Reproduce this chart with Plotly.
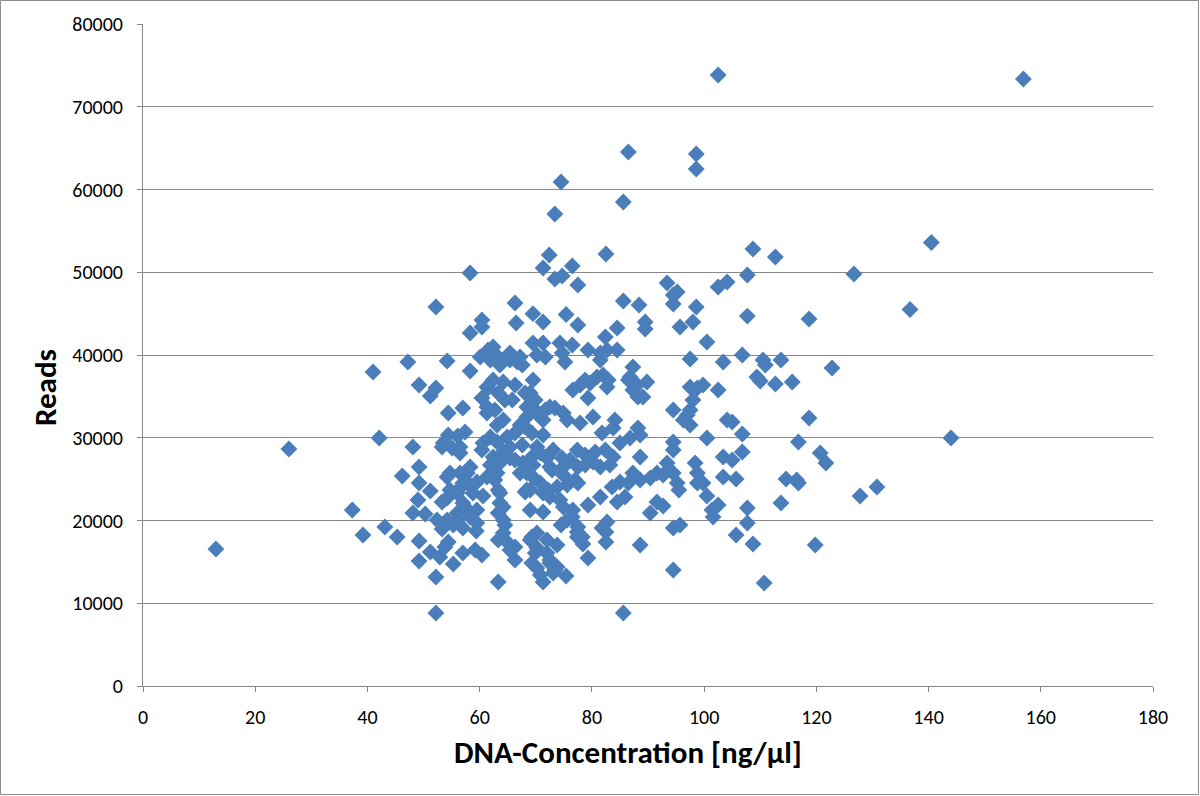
import plotly.graph_objects as go

# DNA concentration [ng/µl]
conc = [
    102.5, 156.9, 86.5, 98.6, 98.6, 74.5, 85.6, 73.4, 140.5, 108.7, 82.5, 72.4, 112.7, 76.5, 71.3, 58.3,
    126.7, 107.7, 74.7, 73.4, 104.1, 102.5, 93.4, 77.5, 95.2, 94.5, 85.6, 94.5, 88.4, 98.6, 52.2, 66.3,
    136.7, 107.7, 118.7, 69.5, 75.4,
    71.3, 77.5, 84.5, 89.5, 89.5, 95.7, 98.0, 82.4, 69.5, 71.3, 74.3, 76.5, 70.2, 71.7, 74.7, 75.2, 79.3,
    81.5, 81.5, 84.5, 100.5, 97.5, 103.4, 87.3, 69.5, 76.6, 77.9, 79.7, 82.0, 82.9, 86.5, 88.1, 89.8, 88.2,
    79.3, 98.8, 99.8, 102.5, 98.0, 94.5, 97.5, 73.4, 74.9, 69.0, 69.9, 70.8, 71.3, 75.6, 77.9, 80.2, 84.1,
    83.8, 96.3, 97.5, 104.1, 69.3, 71.3, 81.8, 88.2, 88.6, 86.8, 85.0, 94.5, 94.5, 100.5, 70.8, 73.1, 74.7,
    77.4, 78.8, 80.6, 82.4, 88.6, 69.5, 72.5, 78.8, 83.2, 93.4, 98.4, 103.4,
    106.8, 110.5, 110.9, 113.7, 122.8, 109.4, 110.0, 112.7, 115.7, 105.0, 118.7, 106.8, 116.8, 106.8, 105.0,
    120.7, 121.7,
    105.7, 114.6, 116.8, 116.5, 127.8, 130.8, 107.7, 113.7, 107.7, 105.7, 108.7, 119.8, 110.7, 144.0,
    13.0, 26.0,
    37.3, 39.2, 43.1, 45.3, 46.2, 49.2, 51.2, 49.0, 48.1, 50.3, 49.2, 49.2, 52.2, 52.2, 51.2, 52.9, 53.8,
    55.3, 54.4, 52.4, 53.3, 55.3, 57.0, 59.4, 57.0, 59.2, 60.4, 54.2, 53.3, 56.5, 57.4, 59.5, 60.6, 54.2,
    56.5, 57.9, 59.5, 63.1, 63.3, 63.6, 63.3, 64.2, 64.2, 63.3, 65.4, 66.3, 63.3, 69.0, 68.4, 61.3, 67.2,
    85.6, 94.5, 88.6, 71.3, 75.4, 79.3, 73.1, 70.2, 72.5, 69.3, 73.8, 72.0, 70.2, 70.2, 77.4, 78.4, 82.5,
    81.8, 82.7, 82.5, 77.5, 76.5, 74.9, 74.5, 71.3, 79.3, 81.5, 83.6, 84.5, 85.9, 86.5, 87.3, 90.4, 91.6,
    92.7, 94.5, 95.7, 95.5, 88.6, 90.4, 92.7, 94.5, 98.8, 98.8, 100.5, 102.5, 101.6, 103.4, 71.3, 72.5,
    75.6, 77.5, 72.9, 69.5, 69.0, 73.8,
    41.0, 47.2, 54.2, 58.3, 49.2, 52.2, 51.2, 54.4, 57.0, 42.1, 48.1, 49.2, 53.5, 54.4, 56.1, 57.4, 56.5,
    58.3, 60.4, 60.4, 58.3, 66.5, 60.1, 62.4, 61.9, 65.4, 66.7, 67.6, 63.6, 61.3, 62.4, 64.2, 66.3, 60.4,
    64.5, 65.8, 61.3, 62.7, 68.1, 68.4, 67.2, 63.1, 61.9, 60.6, 63.1, 64.9, 66.3, 65.4, 67.6, 64.2, 62.4,
    66.3, 61.9, 56.5, 55.1, 53.3,
    61.5, 63.3, 65.4, 67.2, 61.5, 63.3, 61.3, 64.2, 68.1, 68.4, 60.4, 63.6, 67.7, 65.4,
    70.2, 72.0, 76.1, 74.9, 77.5, 80.2, 81.5, 83.8, 69.3, 69.9, 71.7, 69.0, 72.5, 78.8, 80.9, 82.7, 86.8,
    89.1, 87.3, 82.7, 97.5, 97.0,
    54.7, 56.0, 57.0, 58.8, 57.0, 56.0, 54.2, 56.1, 58.3, 59.5, 62.7, 63.6, 64.2, 64.5, 64.9, 62.4, 57.8,
    54.7, 68.4, 68.1, 69.0, 66.3,
    70.8, 72.2, 73.8, 74.9, 77.0, 74.3, 76.6, 75.6, 69.3, 72.0, 72.5, 73.4, 70.8, 69.9, 77.4, 78.3, 85.0,
    91.6, 95.2, 99.8, 101.4,
]

# Reads
reads = [
    73840, 73350, 64530, 64290, 62480, 60900, 58490, 57040, 53600, 52810, 52200, 52080, 51840, 50760, 50510, 49910,
    49790, 49670, 49550, 49180, 48820, 48220, 48700, 48460, 47610, 47250, 46530, 46160, 46040, 45800, 45800, 46280,
    45500, 44700, 44350, 45000, 44900,
    43990, 43630, 43270, 43990, 43140, 43390, 43990, 42180, 41450, 41450, 41450, 41210, 40000, 39760, 40240, 39160, 40610,
    40240, 39400, 40610, 41570, 39520, 39160, 38550, 36980, 35770, 36380, 36620, 37580, 36980, 36980, 36380, 36740, 34920,
    34800, 36010, 36380, 35770, 34560, 33350, 33350, 33600, 32990, 33720, 33350, 32510, 32150, 32150, 31780, 32510, 32150,
    31180, 32150, 31540, 32150, 30580, 30330, 30580, 31180, 30330, 29970, 29370, 29490, 28520, 29970, 28160, 28520, 27550,
    28520, 27920, 28280, 28520, 27670, 26710, 26470, 26710, 26710, 26950, 26950, 27670,
    40000, 39400, 38800, 39400, 38430, 37340, 36860, 36500, 36740, 31900, 32390, 30450, 29490, 28280, 27310,
    28160, 26950,
    25020, 25020, 24530, 24900, 22960, 24050, 21510, 22120, 19700, 18250, 17160, 17040, 12450, 29970,
    16560, 28640,
    21270, 18250, 19210, 18010, 25380, 24530, 23570, 22480, 20910, 20790, 17520, 15110, 13170, 8820, 16190, 15590, 16800,
    14740, 17400, 20060, 18970, 19450, 19090, 18730, 16070, 16440, 15830, 22720, 22240, 23930, 21630, 21270, 22960, 25260,
    25740, 24530, 24650, 25740, 23690, 22120, 20910, 20060, 18490, 17640, 16440, 15230, 12570, 17640, 23690, 25260, 25740,
    8820, 14020, 17040, 12570, 13290, 15470, 13660, 14260, 14860, 14860, 17040, 17640, 18490, 16680, 18010, 17160, 17400,
    19090, 19820, 18610, 19210, 20420, 21630, 19450, 21030, 21870, 22840, 24050, 22240, 22840, 24530, 25740, 20910, 22240,
    21750, 19090, 19450, 23690, 24900, 25140, 25500, 25740, 25740, 24530, 22960, 21870, 20420, 25260, 23330, 22840,
    24290, 24530, 26100, 25260, 23690, 14380,
    37950, 39160, 39280, 38070, 36380, 36010, 35050, 32990, 33600, 29970, 28880, 26470, 29370, 30330, 30210, 30700, 28160,
    26470, 44230, 43390, 42660, 43870, 39760, 40970, 39400, 40240, 39160, 38790, 38790, 36130, 36980, 36740, 36380, 34800,
    34560, 34560, 32990, 33350, 35410, 32510, 31540, 31540, 30090, 29370, 29490, 30090, 30580, 28880, 29120, 28280, 27670,
    27310, 26710, 28880, 28760, 28880,
    40600, 39760, 39400, 39760, 36010, 35410, 33720, 32150, 31300, 33720, 28520, 26950, 26950, 27550,
    28880, 27550, 27310, 26470, 26470, 27070, 26470, 27670, 27670, 34560, 33350, 35410, 33720, 36980, 37340, 36130, 37340,
    34920, 35770, 40610, 36130, 32750,
    23690, 23330, 24530, 23330, 22120, 20910, 20060, 20060, 20420, 19700, 24900, 23330, 21630, 19450, 17400, 25740, 25740,
    25740, 25740, 23450, 21270, 16800,
    24530, 23690, 24050, 25500, 24900, 22480, 21270, 20060, 18010, 16070, 15230, 14020, 13410, 16070, 18610, 18010, 24650,
    25740, 24530, 24530, 21270,
]

x_ticks = [0, 20, 40, 60, 80, 100, 120, 140, 160, 180]
y_ticks = [0, 10000, 20000, 30000, 40000, 50000, 60000, 70000, 80000]
x_title = "DNA-Concentration [ng/µl]"
y_title = "Reads"

W, H = 1200, 796
L, R, T, B = 143, 47, 24, 110
GRID = "#878787"
FONT = "Calibri, Carlito, Lato, sans-serif"

fig = go.Figure(
    go.Scatter(
        x=conc, y=reads, mode="markers",
        marker=dict(symbol="diamond", size=13, color="#4A7EBB", line=dict(width=0)),
        hoverinfo="x+y",
    )
)

pw, ph = W - L - R, H - T - B


def px_x(p):
    return (p - L) / pw


def px_y(p):
    return (H - B - p) / ph


fig.add_shape(
    type="rect", xref="paper", yref="paper",
    x0=px_x(0.5), x1=px_x(W - 1.5), y0=px_y(H - 1.5), y1=px_y(0.5),
    line=dict(color="#8c8c8c", width=1), fillcolor="rgba(0,0,0,0)", layer="below",
)

fig.add_annotation(
    text="<b>" + x_title + "</b>", xref="paper", yref="paper",
    x=px_x(628), y=px_y(752), xanchor="center", yanchor="middle",
    showarrow=False, font=dict(size=31, family=FONT, color="black"),
)
fig.add_annotation(
    text="<b>" + y_title + "</b>", xref="paper", yref="paper",
    x=px_x(45), y=px_y(388), xanchor="center", yanchor="middle", textangle=-90,
    showarrow=False, font=dict(size=31, family=FONT, color="black"),
)

fig.update_layout(
    width=W, height=H,
    margin=dict(l=L, r=R, t=T, b=B, autoexpand=False),
    paper_bgcolor="white", plot_bgcolor="white",
    showlegend=False,
    font=dict(family=FONT, size=20, color="black"),
    xaxis=dict(
        range=[0, 180], tickvals=x_ticks, ticktext=[str(v) for v in x_ticks],
        showgrid=False, zeroline=False, showline=True, linecolor=GRID, linewidth=1,
        ticks="outside", ticklen=5, tickcolor=GRID, ticklabelstandoff=8,
        automargin=False,
    ),
    yaxis=dict(
        range=[0, 80000], tickvals=y_ticks, ticktext=[str(v) for v in y_ticks],
        showgrid=True, gridcolor=GRID, gridwidth=1, zeroline=False,
        showline=True, linecolor=GRID, linewidth=1,
        ticks="outside", ticklen=5, tickcolor=GRID, ticklabelstandoff=10,
        automargin=False,
    ),
)

fig.write_html(
    "out.html",
    config={"displayModeBar": False},
    post_script="document.body.style.margin='0';document.body.style.padding='0';",
)
